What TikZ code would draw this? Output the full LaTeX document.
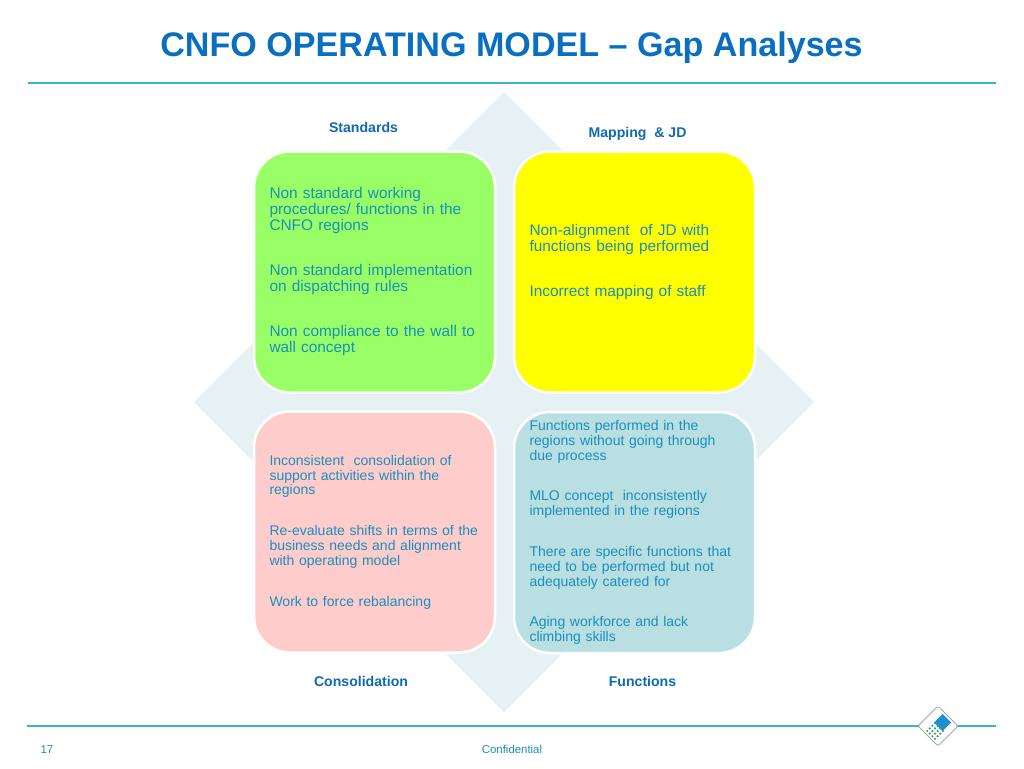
\documentclass[tikz,border=0pt]{standalone}
\usepackage{fontspec}
\setmainfont{Liberation Sans}
\definecolor{titleblue}{HTML}{0B6FC0}
\definecolor{headblue}{HTML}{0F69B4}
\definecolor{bodyblue}{HTML}{1A8FBC}
\definecolor{rulecyan}{HTML}{3FB0CE}
\definecolor{backpale}{HTML}{E6F1F4}
\definecolor{boxgreen}{HTML}{99FF66}
\definecolor{boxyellow}{HTML}{FFFF00}
\definecolor{boxpink}{HTML}{FFCCCC}
\definecolor{boxteal}{HTML}{B9DFE3}
\definecolor{logoblue}{HTML}{1E8FD0}
\definecolor{logogreen}{HTML}{3FA060}
\tikzset{
  quadrant/.style={draw=white, line width=2.5pt, rounded corners=36pt, minimum size=241pt,
    inner sep=0pt, outer sep=0pt, text width=210pt, align=left, text=bodyblue},
  bigtext/.style={font=\fontsize{15.4}{16}\selectfont},
  smalltext/.style={font=\fontsize{14}{14.8}\selectfont},
  heading/.style={font=\fontsize{14.1}{16}\selectfont\bfseries, text=headblue, inner sep=0pt},
  footer/.style={font=\fontsize{11.4}{13}\selectfont, text=bodyblue, inner sep=0pt, anchor=base},
  rule/.style={draw=rulecyan, line width=1.2pt}
}
\begin{document}
\begin{tikzpicture}[x=1pt, y=-1pt]
            % page
            \useasboundingbox (0, 0) rectangle (1024, 768);
            % title
            \node[font=\fontsize{34.1}{40}\selectfont\bfseries, text=titleblue, inner sep=0pt] (title) at (511.5, 47.5) {CNFO OPERATING MODEL -- Gap Analyses};
            % rules
            \coordinate (topleft) at (28, 83);
            \coordinate (topright) at (996, 83);
            \coordinate (bottomleft) at (27, 726);
            \coordinate (bottomright) at (996, 726);
            \draw[rule] (topleft) -- (topright);
            \draw[rule] (bottomleft) -- (bottomright);
            % back diamond
            \fill[backpale] (504, 92) -- (814, 402) -- (504, 712) -- (194, 402) -- cycle;
            % quadrants
            \node[quadrant, fill=boxgreen, bigtext] (standards) at (374.5, 272) {Non standard working\\procedures/ functions in the\\CNFO regions\\[29pt]Non standard implementation\\on dispatching rules\\[29pt]Non compliance to the wall to\\wall concept};
            \node[quadrant, fill=boxyellow, bigtext] (mapping) at (634.5, 272) {Non-alignment\ \ of JD with\\functions being performed\\[29pt]Incorrect mapping of staff\\[8pt]\mbox{}};
            \node[quadrant, fill=boxpink, smalltext] (consolidation) at (374.5, 532) {Inconsistent\ \ consolidation of\\support activities within the\\regions\\[26pt]Re-evaluate shifts in terms of the\\business needs and alignment\\with operating model\\[26pt]Work to force rebalancing};
            \node[quadrant, fill=boxteal, smalltext] (functions) at (634.5, 532.5) {Functions performed in the\\regions without going through\\due process\\[26pt]MLO concept\ \ inconsistently\\implemented in the regions\\[26pt]There are specific functions that\\need to be performed but not\\adequately catered for\\[26pt]Aging workforce and lack\\climbing skills};
            % quadrant labels
            \node[heading] (standardslabel) at (363.5, 127) {Standards};
            \node[heading] (mappinglabel) at (637.5, 133.5) {Mapping\ \ \& JD};
            \node[heading] (consolidationlabel) at (361, 681) {Consolidation};
            \node[heading] (functionslabel) at (642.5, 681) {Functions};
            % footer
            \node[footer] (pagenumber) at (47, 753) {17};
            \node[footer] (confidential) at (512, 753) {Confidential};
            % logo
            \filldraw[fill=white, draw=gray!70, line width=0.8pt, rounded corners=2pt] (938, 706) -- (958, 726) -- (938, 746) -- (918, 726) -- cycle;
            \fill[logoblue] (942.5, 714) -- (951, 722.5) -- (942.5, 731) -- (934, 722.5) -- cycle;
            \foreach \i in {0,...,3} {
                \foreach \j in {0,...,3} {
                    \ifnum\numexpr\i+\j\relax<3
                        \fill[logoblue!80!green] (935+2.6*\i-2.6*\j, 723.2+2.6*\i+2.6*\j) circle (1.2pt);
                    \else
                        \fill[logogreen] (935+2.6*\i-2.6*\j, 723.2+2.6*\i+2.6*\j) circle (1.2pt);
                    \fi
                }
            }
        \end{tikzpicture}
\end{document}
